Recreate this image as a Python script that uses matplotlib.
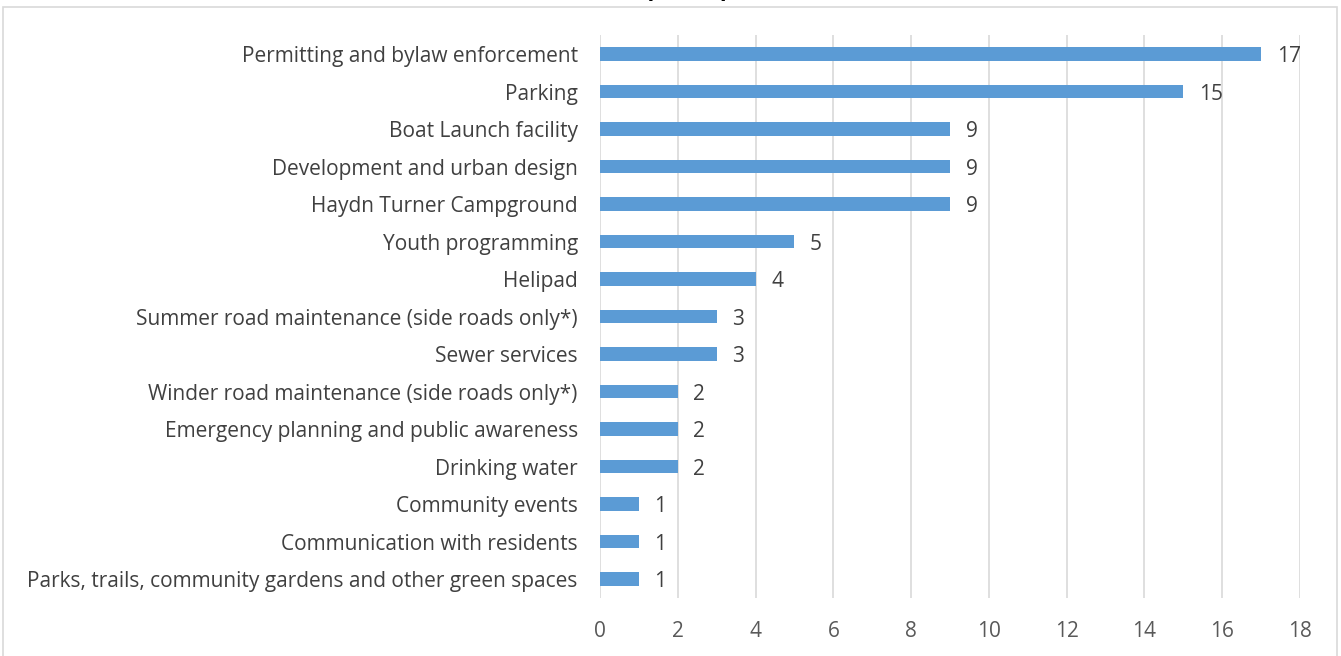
import matplotlib.pyplot as plt
from matplotlib.patches import Rectangle

categories = [
    "Permitting and bylaw enforcement",
    "Parking",
    "Boat Launch facility",
    "Development and urban design",
    "Haydn Turner Campground",
    "Youth programming",
    "Helipad",
    "Summer road maintenance (side roads only*)",
    "Sewer services",
    "Winder road maintenance (side roads only*)",
    "Emergency planning and public awareness",
    "Drinking water",
    "Community events",
    "Communication with residents",
    "Parks, trails, community gardens and other green spaces",
]
counts = [17, 15, 9, 9, 9, 5, 4, 3, 3, 2, 2, 2, 1, 1, 1]
xticks = [0, 2, 4, 6, 8, 10, 12, 14, 16, 18]

plt.rcParams['font.family'] = ['Open Sans', 'DejaVu Sans']
W, H = 1341, 656
fig = plt.figure(figsize=(W / 100, H / 100), dpi=100)
ax = fig.add_axes([600 / W, 1 - 597.75 / H, 700 / W, 562.5 / H])

fs = 15
ypos = list(range(len(categories)))
ax.barh(ypos, counts, height=0.37, color='#5B9BD5', zorder=3)
for y, v in zip(ypos, counts):
    ax.text(v + 0.4, y, str(v), va='center_baseline', ha='left', fontsize=fs, color='#404040')

ax.set_ylim(len(categories) - 0.5, -0.5)
ax.set_xlim(0, 18)
ax.set_yticks(ypos)
ax.set_yticklabels(categories, fontsize=fs, color='#404040', va='center_baseline')
ax.set_xticks(xticks)
ax.set_xticklabels([str(t) for t in xticks], fontsize=fs, color='#595959')
ax.tick_params(length=0)
ax.tick_params(axis='y', pad=16)
ax.tick_params(axis='x', pad=17)
ax.grid(axis='x', color='#D9D9D9', linewidth=1.2, zorder=0)
for s in ax.spines.values():
    s.set_visible(False)

# chart frame
fig.patches.append(Rectangle((3 / W, -0.01), 1334 / W, 1 - 7 / H + 0.01,
                             transform=fig.transFigure, fill=False,
                             edgecolor='#D9D9D9', linewidth=1.2))
# title, cut off at top of image
fig.text(680 / W, 1 - 1 / H, "(n = 20 participants)", ha='center', va='bottom',
         fontsize=16, fontweight='bold', color='black')

fig.savefig('out.png', dpi=100)
